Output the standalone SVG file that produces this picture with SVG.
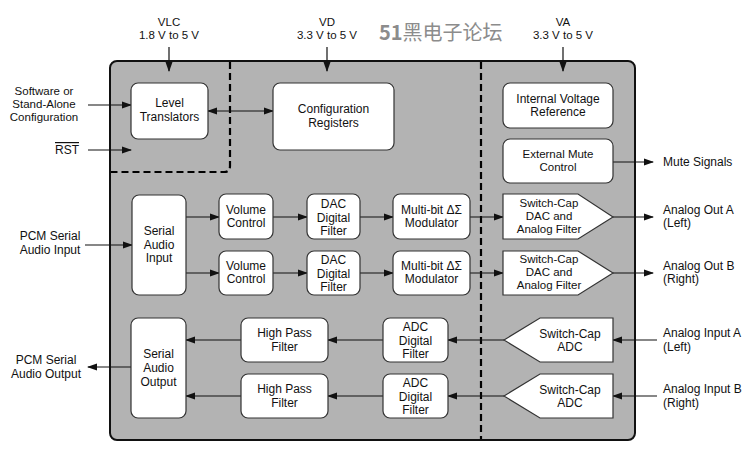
<svg xmlns="http://www.w3.org/2000/svg" width="751" height="466" viewBox="0 0 751 466">
<style>
text{font-family:"Liberation Sans",Arial,sans-serif;font-size:12px;fill:#111}
.c{text-anchor:middle}
.t{font-size:11.5px}
.n{fill:#fff;stroke:#333;stroke-width:1.2}
.w{stroke:#111;stroke-width:1.2;fill:none}
.d{stroke:#000;stroke-width:2.2;fill:none;stroke-dasharray:7,4}
</style>
<defs>
<marker id="a" markerWidth="10" markerHeight="8" refX="9" refY="4" orient="auto" markerUnits="userSpaceOnUse"><path d="M0,0.5 L10,4 L0,7.5 z" fill="#111"/></marker>
<marker id="s" markerWidth="10" markerHeight="8" refX="1" refY="4" orient="auto" markerUnits="userSpaceOnUse"><path d="M10,0.5 L0,4 L10,7.5 z" fill="#111"/></marker>
</defs>
<rect x="0" y="0" width="751" height="466" fill="#fff"/>
<rect id="chip" x="110" y="61" width="525" height="379" rx="7" fill="#b3b3b3" stroke="#111" stroke-width="2"/>
<path class="d" d="M230,62 V166 Q230,172 224,172 H111"/>
<path class="d" d="M481,62 V439"/>
<text x="379" y="40" style="font-family:'Noto Sans CJK SC','Liberation Sans',sans-serif;font-size:20px;fill:#8c8c8c"><tspan font-weight="bold">51</tspan>黑电子论坛</text>

<g id="labels">
<text class="c t" x="169" y="26">VLC</text><text class="c t" x="169" y="39">1.8 V to 5 V</text>
<text class="c t" x="327" y="26">VD</text><text class="c t" x="327" y="39">3.3 V to 5 V</text>
<text class="c t" x="563" y="26">VA</text><text class="c t" x="563" y="39">3.3 V to 5 V</text>
<text class="c t" x="44" y="95">Software or</text><text class="c t" x="44" y="108">Stand-Alone</text><text class="c t" x="44" y="121">Configuration</text>
<text x="55" y="154" style="text-decoration:overline">RST</text>
<text class="c" x="50" y="240">PCM Serial</text><text class="c" x="50" y="254">Audio Input</text>
<text class="c" x="46" y="364">PCM Serial</text><text class="c" x="46" y="378">Audio Output</text>
<text x="663" y="166">Mute Signals</text>
<text x="663" y="214">Analog Out A</text><text x="663" y="227">(Left)</text>
<text x="663" y="270">Analog Out B</text><text x="663" y="283">(Right)</text>
<text x="663" y="337">Analog Input A</text><text x="663" y="351">(Left)</text>
<text x="663" y="393">Analog Input B</text><text x="663" y="407">(Right)</text>
</g>

<g id="connectors" class="w">
<path d="M169,47 V71" marker-end="url(#a)"/>
<path d="M327,47 V71" marker-end="url(#a)"/>
<path d="M563,47 V71" marker-end="url(#a)"/>
<path d="M88,105 H131" marker-end="url(#a)"/>
<path d="M88,150 H131" marker-end="url(#a)"/>
<path d="M208,111 H273" marker-start="url(#s)" marker-end="url(#a)"/>
<path d="M613,162 H653" marker-end="url(#a)"/>
<path d="M85,245 H132" marker-end="url(#a)"/>
<path d="M186,217 H219" marker-end="url(#a)"/>
<path d="M186,273 H219" marker-end="url(#a)"/>
<path d="M273,217 H307" marker-end="url(#a)"/>
<path d="M273,273 H307" marker-end="url(#a)"/>
<path d="M360,217 H393" marker-end="url(#a)"/>
<path d="M360,273 H393" marker-end="url(#a)"/>
<path d="M470,217 H503" marker-end="url(#a)"/>
<path d="M470,273 H503" marker-end="url(#a)"/>
<path d="M613,217 H653" marker-end="url(#a)"/>
<path d="M613,273 H653" marker-end="url(#a)"/>
<path d="M657,340 H613" marker-end="url(#a)"/>
<path d="M657,396 H613" marker-end="url(#a)"/>
<path d="M504,340 H448" marker-end="url(#a)"/>
<path d="M504,396 H448" marker-end="url(#a)"/>
<path d="M383,340 H328" marker-end="url(#a)"/>
<path d="M383,396 H328" marker-end="url(#a)"/>
<path d="M241,340 H186" marker-end="url(#a)"/>
<path d="M241,396 H186" marker-end="url(#a)"/>
<path d="M131,367 H88" marker-end="url(#a)"/>
</g>

<g id="level"><rect class="n" x="131" y="83" width="77" height="56" rx="7"/><text class="c" x="169.5" y="107">Level</text><text class="c" x="169.5" y="121">Translators</text></g>
<g id="config"><rect class="n" x="273" y="83" width="121" height="67" rx="7"/><text class="c" x="333.5" y="113">Configuration</text><text class="c" x="333.5" y="127">Registers</text></g>
<g id="ivref"><rect class="n" x="503" y="83" width="110" height="45" rx="7"/><text class="c" x="558" y="103">Internal Voltage</text><text class="c" x="558" y="116">Reference</text></g>
<g id="mute"><rect class="n" x="503" y="139" width="110" height="44" rx="7"/><text class="c t" x="558" y="158">External Mute</text><text class="c t" x="558" y="171">Control</text></g>
<g id="sai"><rect class="n" x="132" y="195" width="54" height="100" rx="7"/><text class="c" x="159" y="235">Serial</text><text class="c" x="159" y="249">Audio</text><text class="c" x="159" y="262">Input</text></g>
<g id="vol1"><rect class="n" x="219" y="194" width="54" height="45" rx="7"/><text class="c" x="246" y="214">Volume</text><text class="c" x="246" y="227">Control</text></g>
<g id="vol2"><rect class="n" x="219" y="251" width="54" height="44" rx="7"/><text class="c" x="246" y="270">Volume</text><text class="c" x="246" y="283">Control</text></g>
<g id="dacf1"><rect class="n" x="307" y="194" width="53" height="45" rx="7"/><text class="c" x="333.5" y="208">DAC</text><text class="c" x="333.5" y="222">Digital</text><text class="c" x="333.5" y="235">Filter</text></g>
<g id="dacf2"><rect class="n" x="307" y="251" width="53" height="44" rx="7"/><text class="c" x="333.5" y="264">DAC</text><text class="c" x="333.5" y="278">Digital</text><text class="c" x="333.5" y="291">Filter</text></g>
<g id="mod1"><rect class="n" x="393" y="194" width="77" height="45" rx="7"/><text class="c" x="431.5" y="214">Multi-bit ΔΣ</text><text class="c" x="431.5" y="227">Modulator</text></g>
<g id="mod2"><rect class="n" x="393" y="251" width="77" height="44" rx="7"/><text class="c" x="431.5" y="270">Multi-bit ΔΣ</text><text class="c" x="431.5" y="283">Modulator</text></g>
<g id="scdac1"><path class="n" d="M503,194 H578 L613,217 L578,239 H503 Z"/><text class="c t" x="549" y="207">Switch-Cap</text><text class="c t" x="549" y="220">DAC and</text><text class="c t" x="549" y="233">Analog Filter</text></g>
<g id="scdac2"><path class="n" d="M503,251 H578 L613,273 L578,295 H503 Z"/><text class="c t" x="549" y="263">Switch-Cap</text><text class="c t" x="549" y="276">DAC and</text><text class="c t" x="549" y="289">Analog Filter</text></g>
<g id="sao"><rect class="n" x="131" y="318" width="55" height="100" rx="7"/><text class="c" x="158.5" y="358">Serial</text><text class="c" x="158.5" y="372">Audio</text><text class="c" x="158.5" y="386">Output</text></g>
<g id="hpf1"><rect class="n" x="241" y="318" width="87" height="44" rx="7"/><text class="c" x="284.5" y="337">High Pass</text><text class="c" x="284.5" y="351">Filter</text></g>
<g id="hpf2"><rect class="n" x="241" y="374" width="87" height="44" rx="7"/><text class="c" x="284.5" y="393">High Pass</text><text class="c" x="284.5" y="407">Filter</text></g>
<g id="adcf1"><rect class="n" x="383" y="318" width="65" height="44" rx="7"/><text class="c" x="415.5" y="331">ADC</text><text class="c" x="415.5" y="345">Digital</text><text class="c" x="415.5" y="358">Filter</text></g>
<g id="adcf2"><rect class="n" x="383" y="374" width="65" height="44" rx="7"/><text class="c" x="415.5" y="387">ADC</text><text class="c" x="415.5" y="401">Digital</text><text class="c" x="415.5" y="414">Filter</text></g>
<g id="scadc1"><path class="n" d="M613,318 V362 H540 L504,340 L540,318 Z"/><text class="c" x="570" y="338">Switch-Cap</text><text class="c" x="570" y="351">ADC</text></g>
<g id="scadc2"><path class="n" d="M613,374 V418 H540 L504,396 L540,374 Z"/><text class="c" x="570" y="394">Switch-Cap</text><text class="c" x="570" y="407">ADC</text></g>
</svg>
